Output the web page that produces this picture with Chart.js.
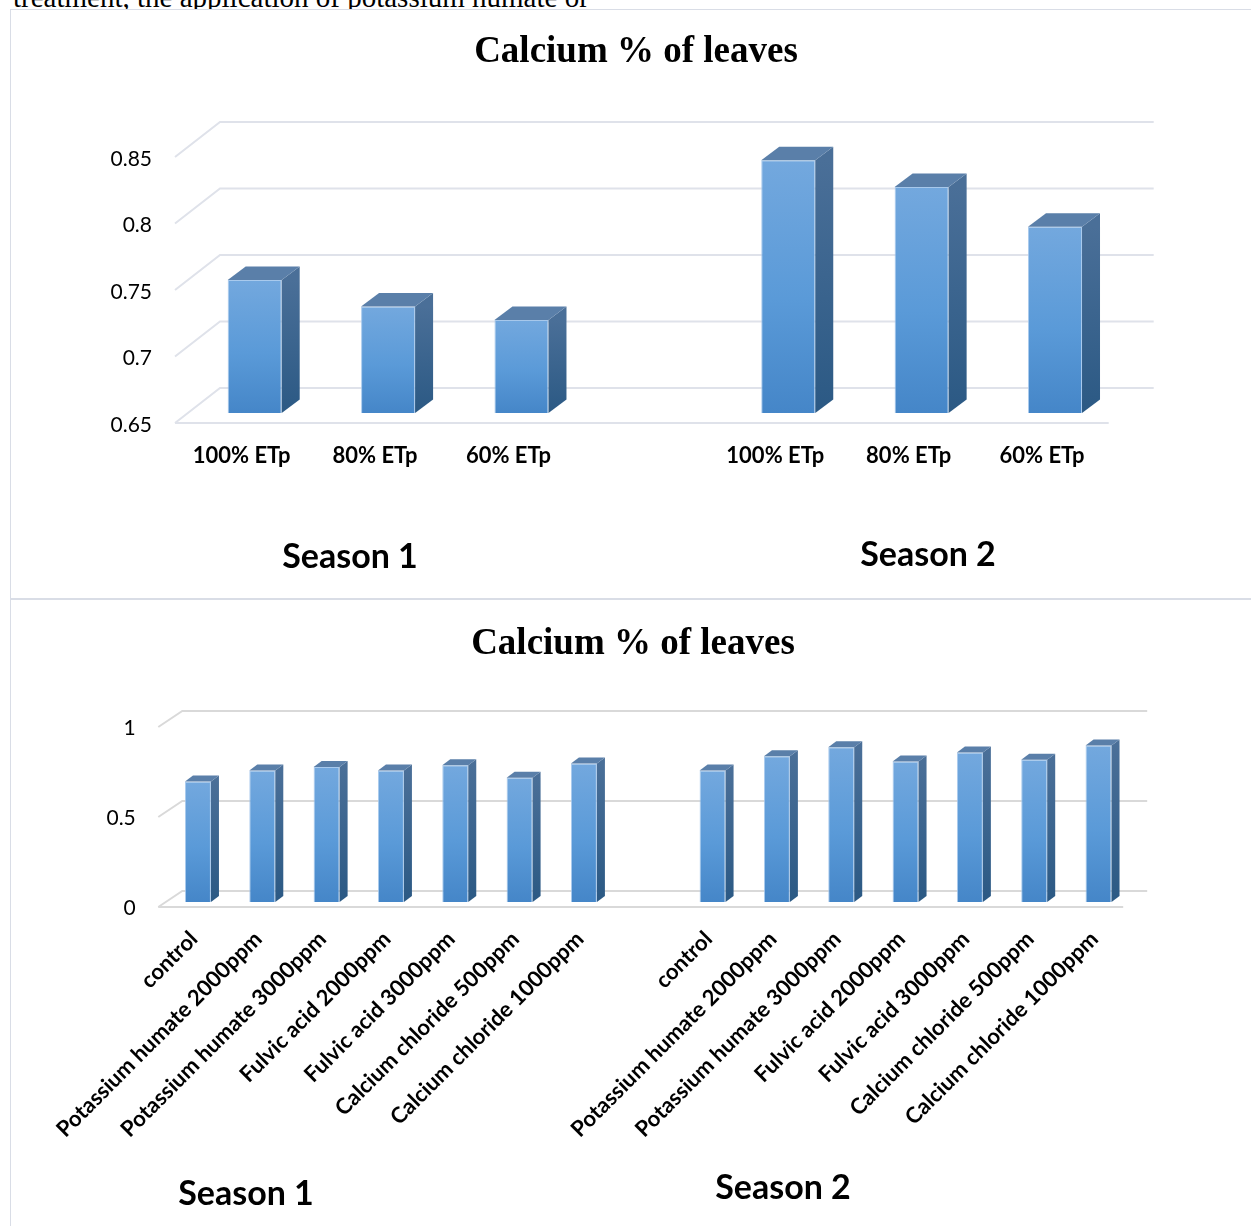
<!DOCTYPE html>
<html><head><meta charset="utf-8">
<script src="https://cdn.jsdelivr.net/npm/chart.js@4.4.1/dist/chart.umd.min.js"></script>
<style>
body{margin:0;background:#fff;width:1251px;height:1226px;overflow:hidden;position:relative}
#line{position:absolute;left:13px;top:-17px;font:29px "Liberation Serif";line-height:29px;white-space:nowrap;color:#000}
.box{position:absolute;border:1px solid #d9dde6;background:#fff}
#b1{left:10px;top:9px;width:1260px;height:588px}
#b2{left:10px;top:599px;width:1260px;height:640px}
canvas{position:absolute;left:0}
#c1{top:0}
#c2{top:600px}
</style></head><body>
<div id="line">treatment, the application of potassium humate or</div>
<div class="box" id="b1"></div>
<div class="box" id="b2"></div>
<canvas id="c1" width="1251" height="598"></canvas>
<canvas id="c2" width="1251" height="626"></canvas>
<script>
const chartTitle = 'Calcium % of leaves';
const seasonLabels = ['Season 1', 'Season 2'];

const etpCategories = ['100% ETp', '80% ETp', '60% ETp'];
const etpSeason1 = [0.75, 0.73, 0.72];
const etpSeason2 = [0.84, 0.82, 0.79];
const etpTicks = ['0.65', '0.7', '0.75', '0.8', '0.85'];

const trtCategories = ['control', 'Potassium humate 2000ppm', 'Potassium humate 3000ppm', 'Fulvic acid 2000ppm', 'Fulvic acid 3000ppm', 'Calcium chloride 500ppm', 'Calcium chloride 1000ppm'];
const trtSeason1 = [0.67, 0.73, 0.75, 0.73, 0.76, 0.69, 0.77];
const trtSeason2 = [0.73, 0.81, 0.86, 0.78, 0.83, 0.79, 0.87];
const trtTicks = ['0', '0.5', '1'];

function make3D(id, o) {
  const labels = [...o.cats, '', ...o.cats];
  const data = [...o.s1, null, ...o.s2];
  const d = o.depth;
  const frontGrad = (c) => {
    const ch = c.chart;
    if (!ch.chartArea || c.parsed == null || c.parsed.y == null) return '#5b9bd5';
    const y = ch.scales.y;
    const top = y.getPixelForValue(c.parsed.y), bot = y.getPixelForValue(y.min);
    const g = ch.ctx.createLinearGradient(0, top, 0, bot);
    g.addColorStop(0, '#73a8de'); g.addColorStop(0.55, '#5a9ad8'); g.addColorStop(1, '#4586c8');
    return g;
  };
  const plugin = {
    id: 'threeD',
    beforeDatasetsDraw(chart) {
      const { ctx, chartArea: a, scales: { y } } = chart;
      ctx.save();
      ctx.strokeStyle = o.gridColor; ctx.lineWidth = 2;
      y.ticks.forEach(t => {
        const py = y.getPixelForValue(t.value);
        ctx.beginPath();
        ctx.moveTo(a.left - d.fdx, py + d.fdy);
        ctx.lineTo(a.left + d.bdx, py - d.bdy);
        ctx.lineTo(a.right + d.bdx, py - d.bdy);
        ctx.stroke();
      });
      const pb = y.getPixelForValue(y.min);
      ctx.beginPath();
      ctx.moveTo(a.left - d.fdx, pb + d.fdy);
      ctx.lineTo(a.right - d.fdx, pb + d.fdy);
      ctx.stroke();
      ctx.restore();
    },
    afterDatasetsDraw(chart) {
      const { ctx, scales: { y } } = chart;
      const meta = chart.getDatasetMeta(0);
      const pb = y.getPixelForValue(y.min);
      ctx.save();
      meta.data.forEach((el, i) => {
        if (data[i] == null) return;
        const xl = el.x - el.width / 2, xr = el.x + el.width / 2, top = el.y, base = Math.min(el.base, pb);
        const sg = ctx.createLinearGradient(0, top, 0, base);
        sg.addColorStop(0, '#4a6f98'); sg.addColorStop(1, '#2b5984');
        ctx.fillStyle = sg;
        ctx.beginPath();
        ctx.moveTo(xr, top); ctx.lineTo(xr + d.bx, top - d.by);
        ctx.lineTo(xr + d.bx, base - d.by); ctx.lineTo(xr, base); ctx.closePath(); ctx.fill();
        ctx.fillStyle = '#5a7fa9';
        ctx.beginPath();
        ctx.moveTo(xl, top); ctx.lineTo(xl + d.bx, top - d.by);
        ctx.lineTo(xr + d.bx, top - d.by); ctx.lineTo(xr, top); ctx.closePath(); ctx.fill();
      });
      ctx.restore();
    },
    afterDraw(chart) {
      const { ctx } = chart;
      ctx.save();
      ctx.fillStyle = '#000';
      ctx.textAlign = 'center'; ctx.textBaseline = 'middle';
      ctx.font = 'bold 37px "Liberation Serif"';
      ctx.fillText(chartTitle, o.titlePos[0], o.titlePos[1]);
      ctx.font = 'bold 34px Lato';
      seasonLabels.forEach((s, i) => ctx.fillText(s, o.seasonPos[i][0], o.seasonPos[i][1]));
      ctx.restore();
    }
  };
  return new Chart(document.getElementById(id), {
    type: 'bar',
    data: { labels, datasets: [{ data, base: o.ymin, backgroundColor: frontGrad, borderColor: 'rgba(160,196,235,0.9)', borderWidth: 1, categoryPercentage: 1, barPercentage: o.barPct }] },
    options: {
      responsive: false, animation: false, devicePixelRatio: 1,
      layout: { padding: o.padding },
      plugins: { legend: { display: false }, tooltip: { enabled: false }, title: { display: false } },
      scales: {
        x: {
          grid: { display: false, drawTicks: false }, border: { display: false },
          afterFit: s => { s.height = o.xh; },
          ticks: Object.assign({ color: '#000', autoSkip: false, font: { family: 'Lato', weight: 'bold', size: o.xFont } }, o.xTicks)
        },
        y: {
          min: o.ymin, max: o.ymax,
          grid: { display: false, drawTicks: false }, border: { display: false },
          afterFit: s => { s.width = 110; },
          afterBuildTicks: s => { s.ticks = o.tickLabels.map(v => ({ value: parseFloat(v) })); },
          ticks: { color: '#000', padding: o.yPad, labelOffset: o.yOff, font: { family: 'Lato', size: 21 }, callback: (v, i) => o.tickLabels[i] }
        }
      }
    },
    plugins: [plugin]
  });
}

make3D('c1', {
  cats: etpCategories, s1: etpSeason1, s2: etpSeason2, tickLabels: etpTicks,
  ymin: 0.65, ymax: 0.85, barPct: 0.405,
  depth: { fdx: 13, fdy: 10, bdx: 32, bdy: 25, bx: 18, by: 13.5 },
  gridColor: '#dfe2ea',
  padding: { left: 78, right: 129.3, top: 147, bottom: 125 },
  xh: 60, xFont: 22,
  xTicks: { padding: 30, labelOffset: -13, maxRotation: 0, minRotation: 0 },
  yPad: 36, yOff: 12,
  titlePos: [636, 52], seasonPos: [[350, 557], [928, 555]]
});

make3D('c2', {
  cats: trtCategories, s1: trtSeason1, s2: trtSeason2, tickLabels: trtTicks,
  ymin: 0, ymax: 1, barPct: 0.404,
  depth: { fdx: 7.5, fdy: 5, bdx: 16.5, bdy: 11, bx: 8, by: 6 },
  gridColor: '#d9d9d9',
  padding: { left: 55.8, right: 120.3, top: 122, bottom: 74 },
  xh: 250, xFont: 22,
  xTicks: { padding: 24, labelOffset: -4, maxRotation: 45, minRotation: 45 },
  yPad: 30, yOff: 6,
  titlePos: [633, 44], seasonPos: [[246, 594], [783, 588]]
});
</script>
</body></html>
